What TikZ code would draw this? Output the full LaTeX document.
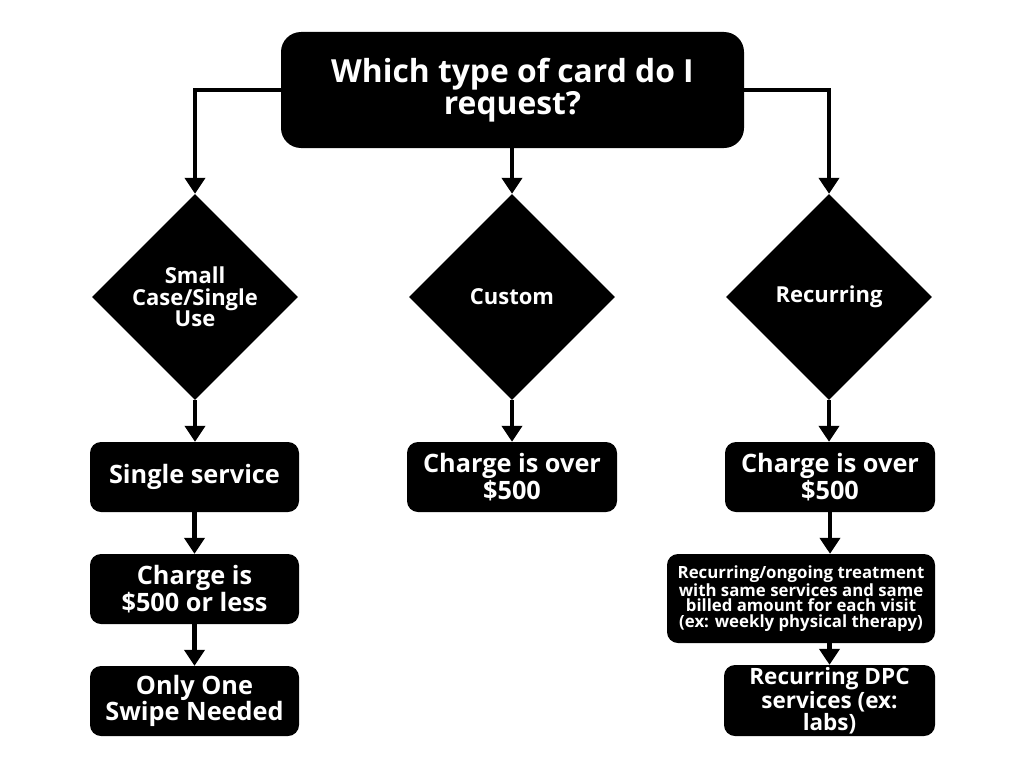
\documentclass[tikz,border=0pt]{standalone}
\usepackage{fontspec}
\setmainfont{Open Sans}
\usetikzlibrary{shapes.geometric,arrows.meta}
\begin{document}
\begin{tikzpicture}[x=1pt,y=-1pt,
  box/.style={fill=black,text=white,rounded corners=11pt,inner sep=0pt,align=center,
    minimum width=209pt,minimum height=70pt,font=\bfseries\fontsize{25.3}{23.8}\selectfont},
  dia/.style={diamond,fill=black,text=white,inner sep=0pt,minimum width=206pt,
    minimum height=206pt,align=center,font=\bfseries\fontsize{22}{21.5}\selectfont},
  conn/.style={line width=4.5pt,-{Triangle[width=20pt,length=16pt]}},
]
\fill[white] (0,0) rectangle (1024,768);
\useasboundingbox (0,0) rectangle (1024,768);

\node[box,rounded corners=20pt,minimum width=463pt,minimum height=116pt,
  font=\bfseries\fontsize{31.8}{32}\selectfont] (top) at (512.5,90) {Which type of card do I\\request?};

\node[dia] (d1) at (195,297) {Small\\Case/Single\\Use};
\node[dia] (d2) at (512,297) {Custom};
\node[dia] (d3) at (829,297) {Recurring};

\node[box] (l1) at (194.5,477) {Single service};
\node[box] (l2) at (194.5,589) {Charge is\\\$500 or less};
\node[box] (l3) at (194.5,701) {Only One\\Swipe Needed};

\node[box,minimum width=210pt] (m1) at (512,477) {Charge is over\\\$500};

\node[box,minimum width=210pt] (r1) at (830,477) {Charge is over\\\$500};
\node[box,minimum width=268pt,minimum height=89pt,
  font=\bfseries\fontsize{16.8}{15.6}\selectfont] (r2) at (801,598.5)
  {Recurring/ongoing treatment\\with same services and same\\billed amount for each visit\\(ex: weekly physical therapy)};
\node[box,minimum width=211pt,minimum height=71pt,
  font=\bfseries\fontsize{22.5}{22}\selectfont] (r3) at (829.5,700.5) {Recurring DPC\\services (ex:\\labs)};

\draw[conn] (top.west) -| (d1.north);
\draw[conn] (d2.north |- top.south) -- (d2.north);
\draw[conn] (top.east) -| (d3.north);

\draw[conn] (d1.south) -- (d1.south |- l1.north);
\draw[conn] (l1.south) -- (l2.north);
\draw[conn] (l2.south) -- (l3.north);

\draw[conn] (d2.south) -- (m1.north);

\draw[conn] (d3.south) -- (d3.south |- r1.north);
\draw[conn] (r1.south) -- (r1.south |- r2.north);
\draw[conn] (r3.north |- r2.south) -- (r3.north);
\end{tikzpicture}
\end{document}
